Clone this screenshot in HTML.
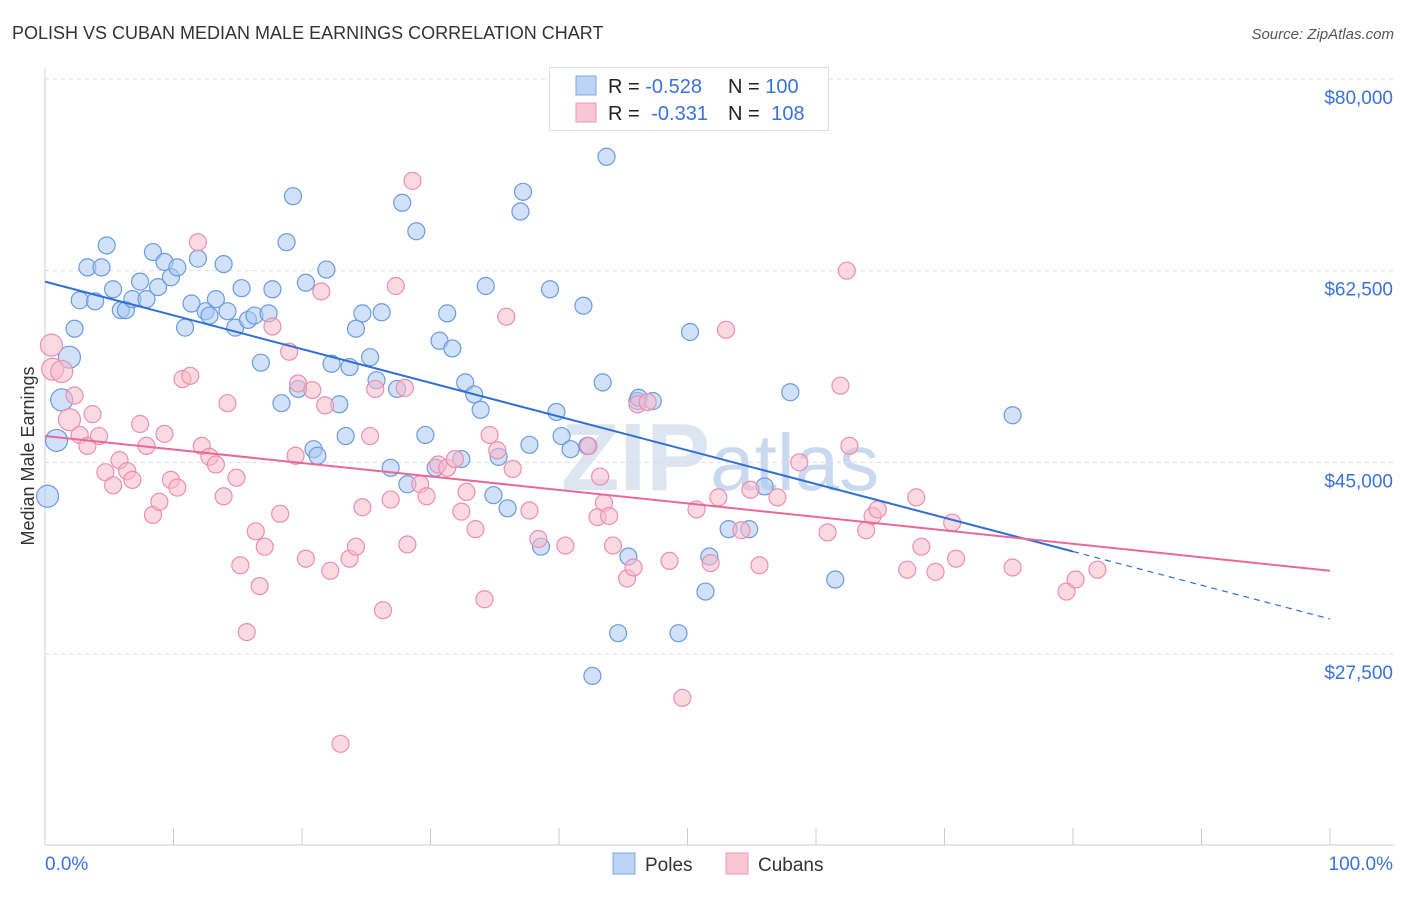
<!DOCTYPE html>
<html><head><meta charset="utf-8"><style>
body{margin:0;background:#fff;font-family:"Liberation Sans",sans-serif;}
svg text{font-family:"Liberation Sans",sans-serif;}
</style></head><body>
<svg id="chart" width="1406" height="892">
<text x="12" y="39" font-size="18" fill="#333">POLISH VS CUBAN MEDIAN MALE EARNINGS CORRELATION CHART</text>
<text x="1394" y="39" font-size="15" fill="#555" font-style="italic" text-anchor="end">Source: ZipAtlas.com</text>
<text x="720" y="490" font-size="96" fill="#dde6f0" text-anchor="middle" font-weight="bold">ZIP<tspan fill="#c9daf0" font-weight="normal" font-size="80">atlas</tspan></text>
<text transform="translate(34,456) rotate(-90)" font-size="18" fill="#333" text-anchor="middle">Median Male Earnings</text>
<g id="grid"></g><g id="axes"></g><g id="pts"></g><g id="lines"></g>
<g>
<rect x="549.5" y="67.5" width="279" height="63" fill="#fff" stroke="#ddd"/>
<rect x="576" y="76" width="20" height="19" fill="#bcd4f5" stroke="#7ea8e6"/>
<rect x="576" y="103" width="20" height="19" fill="#f9c6d4" stroke="#ee9ab2"/>
<text x="608" y="93" font-size="20" fill="#222">R = <tspan fill="#3a72d8">-0.528</tspan><tspan x="728">N = </tspan><tspan fill="#3a72d8">100</tspan></text>
<text x="608" y="120" font-size="20" fill="#222">R = <tspan fill="#3a72d8" dx="6">-0.331</tspan><tspan x="728">N = </tspan><tspan fill="#3a72d8" dx="6">108</tspan></text>
</g>
<g>
<rect x="613" y="853" width="22" height="21" fill="#bcd4f5" stroke="#7ea8e6"/>
<text x="645" y="871" font-size="19" fill="#333">Poles</text>
<rect x="726" y="853" width="22" height="21" fill="#f9c6d4" stroke="#ee9ab2"/>
<text x="758" y="871" font-size="19" fill="#333">Cubans</text>
</g>
</svg>
<script>
const yTicks=[80000,62500,45000,27500];
const yTickLabels=["$80,000","$62,500","$45,000","$27,500"];
const xTickLabels=["0.0%","100.0%"];
const polesX=[0.2,0.9,1.3,1.9,2.3,2.7,3.3,3.9,4.4,4.8,5.3,5.9,6.3,6.8,7.4,7.9,8.4,8.8,9.3,9.8,10.3,10.9,11.4,11.9,12.5,12.8,13.3,13.9,14.2,14.8,15.3,15.8,16.3,16.8,17.4,17.7,18.4,18.8,19.3,19.7,20.3,20.9,21.2,21.9,22.3,22.9,23.4,23.7,24.2,24.7,25.3,25.8,26.2,26.9,27.4,27.8,28.2,28.9,29.6,30.4,30.7,31.3,31.7,32.4,32.7,33.4,33.9,34.3,34.9,35.3,36.0,37.0,37.2,37.7,38.6,39.3,39.8,40.2,40.9,41.9,42.2,42.6,43.4,43.7,44.6,45.4,46.1,46.2,47.3,49.3,50.2,51.4,51.7,53.2,54.8,56.0,58.0,61.5,75.3];
const polesY=[41.9,47.0,50.7,54.6,57.2,59.8,62.8,59.7,62.8,64.8,60.8,58.9,58.9,59.9,61.5,59.9,64.2,61.0,63.3,61.9,62.8,57.3,59.5,63.6,58.8,58.4,59.9,63.1,58.8,57.3,60.9,58.0,58.4,54.1,58.6,60.8,50.4,65.1,69.3,51.7,61.4,46.2,45.6,62.6,54.0,50.3,47.4,53.7,57.2,58.6,54.6,52.5,58.7,44.5,51.7,68.7,43.0,66.1,47.5,44.5,56.1,58.6,55.4,45.3,52.3,51.2,49.8,61.1,42.0,45.5,40.8,67.9,69.7,46.6,37.3,60.8,49.6,47.4,46.2,59.3,46.5,25.5,52.3,72.9,29.4,36.4,50.6,50.9,50.6,29.4,56.9,33.2,36.4,38.9,38.9,42.8,51.4,34.3,49.3];
const cubansX=[0.5,0.6,1.3,1.9,2.3,2.7,3.3,3.7,4.2,4.7,5.3,5.8,6.4,6.8,7.4,7.9,8.4,8.9,9.3,9.8,10.3,10.7,11.3,11.9,12.2,12.8,13.3,13.9,14.2,14.9,15.2,15.7,16.4,16.7,17.1,17.7,18.3,19.0,19.5,19.7,20.3,20.8,21.5,21.8,22.2,23.0,23.7,24.2,24.7,25.3,25.7,26.3,26.9,27.3,28.0,28.2,28.6,29.2,29.7,30.6,31.3,31.9,32.4,32.8,33.5,34.2,34.6,35.2,35.9,36.4,37.7,38.4,40.5,42.3,43.0,43.2,43.5,43.9,44.2,45.3,45.8,46.1,46.9,48.6,49.6,50.7,51.8,52.4,53.0,54.2,54.9,55.6,57.0,58.7,60.9,61.9,62.4,62.6,63.9,64.4,64.8,67.1,67.8,68.2,69.3,70.6,70.9,75.3,79.5,80.2,81.9];
const cubansY=[55.7,53.5,53.3,48.9,51.1,47.5,46.5,49.4,47.4,44.1,42.9,45.2,44.2,43.4,48.5,46.5,40.2,41.4,47.6,43.4,42.7,52.6,52.9,65.1,46.5,45.5,44.8,41.9,50.4,43.6,35.6,29.5,38.7,33.7,37.3,57.4,40.3,55.1,45.6,52.2,36.2,51.6,60.6,50.2,35.1,19.3,36.2,37.3,40.9,47.4,51.7,31.5,41.6,61.1,51.8,37.5,70.7,43.0,41.9,44.8,44.5,45.3,40.5,42.3,38.9,32.5,47.5,46.1,58.3,44.4,40.6,38.0,37.4,46.5,40.0,43.7,41.3,40.1,37.4,34.4,35.4,50.3,50.5,36.0,23.5,40.7,35.8,41.8,57.1,38.8,42.5,35.6,41.8,45.0,38.6,52.0,62.5,46.5,38.8,40.1,40.7,35.2,41.8,37.3,35.0,39.5,36.2,35.4,33.2,34.3,35.2];
const polesTrend=[61.5,30.7]; const polesSolidEnd=80;
const cubansTrend=[47.4,35.1];

const NS="http://www.w3.org/2000/svg";
const X0=45,X1=1330,Y80=79,Y275=654;
const xs=v=>X0+(X1-X0)*v/100;
const ys=k=>Y80+(80-k)*(Y275-Y80)/52.5;
function mk(t,a,p){const e=document.createElementNS(NS,t);for(const k in a)e.setAttribute(k,a[k]);p.appendChild(e);return e;}
const grid=document.getElementById('grid'),axes=document.getElementById('axes');
yTicks.forEach((v,i)=>{const y=ys(v/1000);
 const l=mk('line',{x1:45,x2:1394,y1:y,y2:y,stroke:'#dcdcdc','stroke-dasharray':'4,4'},grid);
 
 
 const t=mk('text',{x:1393,y:y+25,'font-size':19,fill:'#3a72d8','text-anchor':'end'},grid);
 t.textContent=yTickLabels[i];
 
 
});
mk('line',{x1:45,x2:45,y1:68,y2:845,stroke:'#ccc'},axes);
mk('line',{x1:45,x2:1394,y1:845,y2:845,stroke:'#ccc'},axes);
for(let i=0;i<=10;i++){mk('line',{x1:xs(i*10),x2:xs(i*10),y1:828,y2:845,stroke:'#ccc'},axes);}
const xl0=mk('text',{x:45,y:870,'font-size':19,fill:'#3a72d8'},axes);xl0.textContent=xTickLabels[0];


const xl1=mk('text',{x:1393,y:870,'font-size':19,fill:'#3a72d8','text-anchor':'end'},axes);xl1.textContent=xTickLabels[1];


const pts=document.getElementById('pts');
function draw(X,Y,fill,stroke,name){X.forEach((x,i)=>{const c=mk('circle',{cx:xs(x),cy:ys(Y[i]),r:(x<2?11:8.5),fill:fill,'fill-opacity':0.55,stroke:stroke,'stroke-width':1.2},pts);
 
 });}
draw(polesX,polesY,'#a9c8f2','#6b9be0','poles-point');
draw(cubansX,cubansY,'#f7b9cc','#ec8fae','cubans-point');
const lines=document.getElementById('lines');
const pf=x=>polesTrend[0]+(polesTrend[1]-polesTrend[0])*x/100;
const l1=mk('line',{x1:xs(0),y1:ys(pf(0)),x2:xs(polesSolidEnd),y2:ys(pf(polesSolidEnd)),stroke:'#2f6fd6','stroke-width':2},lines);


const l2=mk('line',{x1:xs(polesSolidEnd),y1:ys(pf(polesSolidEnd)),x2:xs(100),y2:ys(pf(100)),stroke:'#2f6fd6','stroke-width':1.2,'stroke-dasharray':'6,5'},lines);


const l3=mk('line',{x1:xs(0),y1:ys(cubansTrend[0]),x2:xs(100),y2:ys(cubansTrend[1]),stroke:'#e8689a','stroke-width':2},lines);


</script>
</body></html>
